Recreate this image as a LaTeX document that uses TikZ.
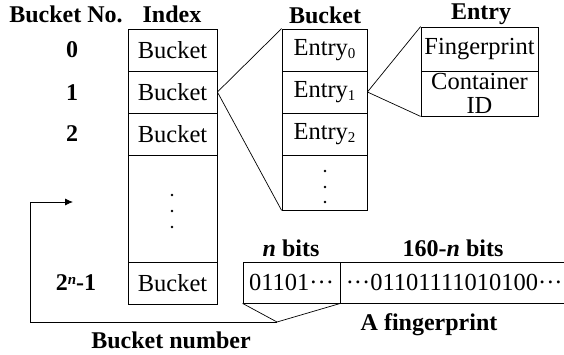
\documentclass[tikz,border=0pt]{standalone}
\usepackage{fontspec}
\setmainfont{Liberation Serif}
\usetikzlibrary{arrows.meta}
\newcommand{\lowidx}[1]{\raisebox{-0.28ex}{\fontsize{15}{15}\selectfont #1}}
\newcommand{\highidx}[1]{\raisebox{0.6ex}{\fontsize{15}{15}\selectfont #1}}
% compact centred ellipsis
\newcommand{\cdts}{\textperiodcentered\textperiodcentered\textperiodcentered}
\begin{document}
\begin{tikzpicture}[x=1pt,y=-1pt,
  head/.style={font=\fontsize{24}{24}\selectfont\bfseries, inner sep=0pt},
  cell/.style={draw, line width=0.8pt, inner sep=0pt, font=\fontsize{24.5}{24}\selectfont},
  idx/.style={cell, minimum width=89pt, minimum height=42pt},
  bkt/.style={cell, minimum width=85pt, minimum height=42pt},
  ent/.style={cell, minimum width=117pt},
  link/.style={line width=0.7pt},
  dotmark/.style={fill, circle, inner sep=0pt, minimum size=2.8pt}]
\useasboundingbox (0,0) rectangle (564,354);

% column headings
\node[head] (hNo)  at (66,14)  {Bucket No.};
\node[head] (hIdx) at (172,14) {Index};
\node[head] (hBkt) at (325,15) {Bucket};
\node[head] (hEnt) at (481,14) {Entry};

% bucket numbers
\node[head] (n0) at (72,50)  {0};
\node[head] (n1) at (72,93)  {1};
\node[head] (n2) at (72,134) {2};
\node[head] (nN) at (76,283) {2\highidx{\bfseries\itshape n}-1};

% index column
\node[idx] (i0) at (172.5,50)  {Bucket};
\node[idx] (i1) at (172.5,92)  {Bucket};
\node[idx] (i2) at (172.5,134) {Bucket};
\node[idx, minimum height=107pt] (iD) at (172.5,208.5) {};
\node[idx] (iN) at (172.5,283) {Bucket};
\node[dotmark] at (172,195) {};
\node[dotmark] at (172,211) {};
\node[dotmark] at (172,227) {};

% bucket column
\node[bkt] (b0) at (324.5,50)  {Entry\lowidx{0}};
\node[bkt] (b1) at (324.5,92)  {Entry\lowidx{1}};
\node[bkt] (b2) at (324.5,134) {Entry\lowidx{2}};
\node[bkt, minimum height=55pt] (bD) at (324.5,182.5) {};
\node[dotmark] at (325,171) {};
\node[dotmark] at (325,187) {};
\node[dotmark] at (325,202) {};

% entry layout
\node[ent, minimum height=44pt] (eF) at (479.5,49) {Fingerprint};
\node[ent, minimum height=45pt, align=center] (eC) at (479.5,93.5)
  {\fontsize{24.5}{22}\selectfont Container\\ID};

% zoom lines
\draw[link] (i1.east) -- (b0.north west);
\draw[link] (i1.east) -- (bD.south west);
\draw[link] (b1.east) -- (eF.north west);
\draw[link] (b1.east) -- (eC.south west);

% fingerprint bits
\node[head] (lN)   at (291,248) {\textit{n} bits};
\node[head] (lRest) at (453,248) {160-\textit{n} bits};
\node[cell, minimum width=97pt, minimum height=41pt] (fA) at (291.5,282.5) {01101\cdts};
\node[cell, minimum width=240pt, minimum height=41pt, anchor=west, inner xsep=1.5pt,
  text width=230pt, align=left]
  (fB) at (fA.east) {\cdts01101111010100\cdts};
\node[head] (lFp) at (429,325) {A fingerprint};
\node[head] (lBn) at (171,340) {Bucket number};

% prefix selects the bucket
\coordinate (tip) at (277,322);
\coordinate (arr) at (73,202);
\draw[link] (fA.south west) -- (tip) -- (fA.south east);
\draw[line width=0.8pt, -{Latex[length=8pt,width=7pt]}]
  (tip) -- (30,322) |- (arr);
\end{tikzpicture}
\end{document}
